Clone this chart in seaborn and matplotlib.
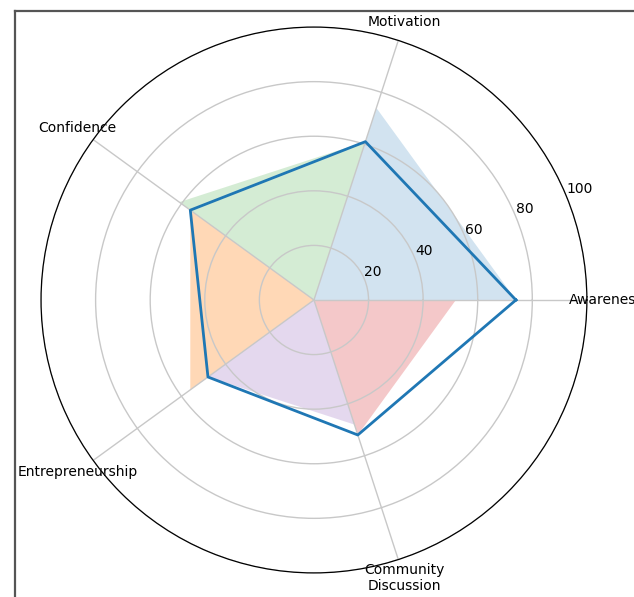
import numpy as np
import pandas as pd
import matplotlib
matplotlib.use("Agg")
import matplotlib.pyplot as plt
import seaborn as sns

categories = ["Awareness", "Motivation", "Confidence", "Entrepreneurship", "Community\nDiscussion"]
values = [74, 61, 56, 48, 52]
r_ticks = [20, 40, 60, 80, 100]
fill_colors = ["#1f77b4", "#2ca02c", "#ff7f0e", "#9467bd", "#d62728"]
fill_alphas = [0.2, 0.2, 0.3, 0.25, 0.25]

n = len(categories)
angles = np.linspace(0, 2 * np.pi, n, endpoint=False)

fig = plt.figure(figsize=(6.34, 5.97), dpi=100)
ax = fig.add_axes([0.0647, 0.0402, 0.861, 0.9146], projection="polar")

# sector fills: each category value spans to the next spoke
for i in range(n):
    a0 = angles[i]
    a1 = angles[(i + 1) % n] if i + 1 < n else 2 * np.pi
    ax.fill([0, a0, a1, 0], [0, values[i], values[i], 0],
            color=fill_colors[i], alpha=fill_alphas[i], linewidth=0)

df = pd.DataFrame({"angle": list(angles) + [2 * np.pi], "value": values + [values[0]]})
sns.lineplot(data=df, x="angle", y="value", ax=ax, sort=False, color="#1f77b4", linewidth=2)

ax.set_ylim(0, 100)
ax.set_yticks(r_ticks)
ax.set_yticklabels([str(t) for t in r_ticks], fontsize=10)
ax.set_rlabel_position(22.5)
ax.set_xticks(angles)
ax.set_xticklabels(categories, fontsize=10)
ax.set_xlabel("")
ax.set_ylabel("")
ax.grid(True, color="#c8c8c8", linewidth=1)
ax.spines["polar"].set_linewidth(0.9)

# screenshot frame edges
fig.add_artist(plt.Line2D([14.5 / 634, 14.5 / 634], [0, 1 - 11 / 597], color="#555555", linewidth=1.6, transform=fig.transFigure))
fig.add_artist(plt.Line2D([14.5 / 634, 1], [1 - 11 / 597, 1 - 11 / 597], color="#555555", linewidth=1.6, transform=fig.transFigure))

fig.savefig("out.png", dpi=100)
